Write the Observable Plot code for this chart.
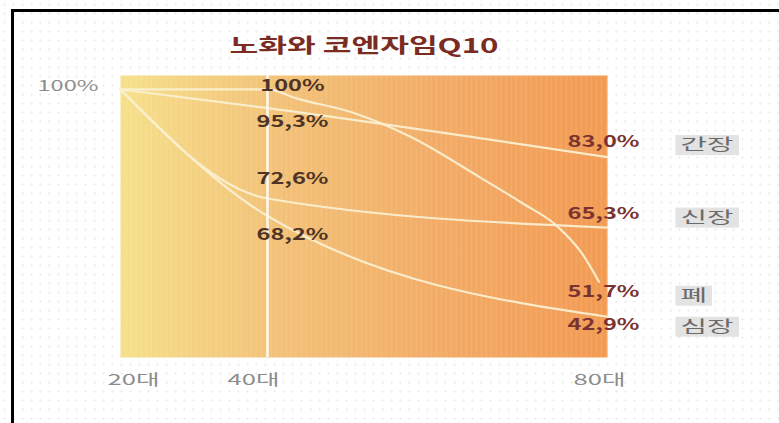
<!DOCTYPE html>
<html><head><meta charset="utf-8">
<script src="https://cdn.jsdelivr.net/npm/d3@7"></script>
<script src="https://cdn.jsdelivr.net/npm/@observablehq/plot@0.6"></script>
<style>
html,body{margin:0;padding:0;background:#fff;overflow:hidden}
#wrap{position:relative;width:779px;height:423px;overflow:hidden;background-color:#fff;
  background-image:radial-gradient(circle,#ececec 0.9px,transparent 1.3px);background-size:9px 9px;}
#border{position:absolute;left:11px;top:9px;width:820px;height:460px;border-left:3px solid #000;border-top:3px solid #000;box-sizing:border-box}
#wrap svg.plot{position:absolute;left:0;top:0}
</style></head><body>
<svg width="0" height="0" style="position:absolute">
  <defs>
    <linearGradient id="bgGrad" x1="0" x2="1" y1="0" y2="0">
      <stop offset="0" stop-color="#f6e08a"/>
      <stop offset="0.3" stop-color="#f2c378"/>
      <stop offset="0.65" stop-color="#f2ab66"/>
      <stop offset="1" stop-color="#f29a52"/>
    </linearGradient>
    <pattern id="stripes" width="5" height="10" patternUnits="userSpaceOnUse">
      <rect x="0" y="0" width="1.5" height="10" fill="rgba(255,255,255,0.10)"/>
    </pattern>
  </defs>
</svg>
<div id="wrap"><div id="border"></div></div>
<script>
// ---- data ----
const title = "노화와 코엔자임Q10";
const ages = [20, 40, 80];
const ageLabels = ["20대", "40대", "80대"];
const organs = ["간장", "신장", "폐", "심장"];
const liver = [100, 95.3, 83.0];
const kidney = [100, 72.6, 65.3];
const heart = [100, 68.2, 42.9];
// lung curve (labelled 100% at 40대, 51.7% at 80대)
const lungAges = [20, 40, 43.5, 50, 57, 65, 70, 74, 77, 79];
const lung = [100, 100, 97.7, 94.2, 87.9, 77.9, 71.4, 65.8, 58.8, 51.7];

// ---- tables built from the arrays ----
const seriesAges = {"간장": ages, "신장": ages, "폐": lungAges, "심장": ages};
const seriesVals = {"간장": liver, "신장": kidney, "폐": lung, "심장": heart};
const lineRows = organs.flatMap(o => seriesAges[o].map((a, i) => ({organ: o, age: a, value: seriesVals[o][i]})));
const fmt = v => (v === 100 ? "100" : v.toFixed(1).replace(".", ",")) + "%";
const midVal = o => seriesVals[o][seriesAges[o].indexOf(40)];
const endVal = o => seriesVals[o][seriesVals[o].length - 1];

// label offsets (styling)
const midDy = {"간장": 14, "신장": -20, "폐": -4, "심장": 19};
const endDy = {"간장": -15, "신장": -14, "폐": 10, "심장": 8};
const tagDy = {"간장": -12, "신장": -10, "폐": 14, "심장": 10};
const ageDx = {20: 13, 40: -14, 80: -8};

const marks = [
  Plot.frame({fill: "url(#bgGrad)"}),
  Plot.frame({fill: "url(#stripes)"}),
  Plot.line(lineRows, {x: "age", y: "value", z: "organ", curve: "monotone-x", stroke: "#faefd0", strokeWidth: 2.2, strokeOpacity: 0.95}),
  Plot.ruleX([40], {stroke: "#fffaf0", strokeWidth: 2.5}),
  Plot.axisY({ticks: [100], tickSize: 0, tickPadding: 22, dy: -3, tickFormat: d => d + "%", fontSize: 15, fill: "#8d8d8d", label: null}),
  ...ages.map(a => Plot.axisX({ticks: [a], tickSize: 0, tickPadding: 17, dx: ageDx[a], fontSize: 15, fill: "#8d8d8d",
      tickFormat: d => ageLabels[ages.indexOf(d)], label: null})),
  Plot.text([title], {frameAnchor: "top", dy: -37, fontSize: 20, fontWeight: "bold", fill: "#7a2b22", ariaLabel: "title"}),
  ...organs.map(o => Plot.text([{age: 40, value: midVal(o)}], {x: "age", y: "value", text: d => fmt(d.value),
      dx: 25, dy: midDy[o], fontSize: 16, fontWeight: "bold", fill: "#4e3427", ariaLabel: () => "num"})),
  ...organs.map(o => Plot.text([{age: 80, value: endVal(o)}], {x: "age", y: "value", text: d => fmt(d.value),
      dx: -4, dy: endDy[o], fontSize: 16, fontWeight: "bold", fill: "#7b3331", ariaLabel: () => "num"})),
  ...organs.map(o => Plot.text([{organ: o, value: endVal(o)}], {y: "value", text: "organ", frameAnchor: "right",
      dx: 73, dy: tagDy[o], textAnchor: "start", fontSize: 16, fill: "#6a6a6a", ariaLabel: () => "tag"}))
];

const chart = Plot.plot({
  width: 779, height: 423,
  marginLeft: 120, marginRight: 172, marginTop: 75, marginBottom: 66,
  x: {type: "linear", domain: [20, 40, 80], range: [120, 267, 607]},
  y: {domain: [32.66, 103.5]},
  style: {background: "transparent", fontFamily: "'Noto Sans CJK KR', sans-serif", overflow: "visible"},
  marks
});
document.getElementById("wrap").appendChild(chart);

// find text elements by their own aria-label or their group's
function pick(label) {
  const own = [...chart.querySelectorAll(`text[aria-label="${label}"]`)];
  if (own.length) return own;
  return [...chart.querySelectorAll(`g[aria-label="${label}"] text`)];
}
function stretch(label, refText, target) {
  const els = pick(label);
  if (!els.length) return;
  const ref = els.find(e => e.textContent === refText) || els[0];
  const f = target / ref.getComputedTextLength();
  els.forEach(e => {
    e.setAttribute("textLength", e.getComputedTextLength() * f);
    e.setAttribute("lengthAdjust", "spacingAndGlyphs");
  });
}
const titleEl = [...chart.querySelectorAll("text")].find(t => t.textContent === title);
if (titleEl) {
  titleEl.setAttribute("textLength", 269);
  titleEl.setAttribute("lengthAdjust", "spacingAndGlyphs");
}
stretch("num", "83,0%", 72);
stretch("tag", "간장", 53);
stretch("x-axis tick label", "20대", 52);
stretch("y-axis tick label", "100%", 61);

pick("tag").forEach(t => {
  const b = t.getBBox();
  const r = document.createElementNS("http://www.w3.org/2000/svg", "rect");
  r.setAttribute("x", b.x - 5);
  r.setAttribute("width", b.width + 10);
  r.setAttribute("y", -10);
  r.setAttribute("height", 20);
  r.setAttribute("fill", "#e3e3e3");
  const tr = t.getAttribute("transform");
  if (tr) r.setAttribute("transform", tr);
  t.parentNode.insertBefore(r, t);
});
</script>
</body></html>
